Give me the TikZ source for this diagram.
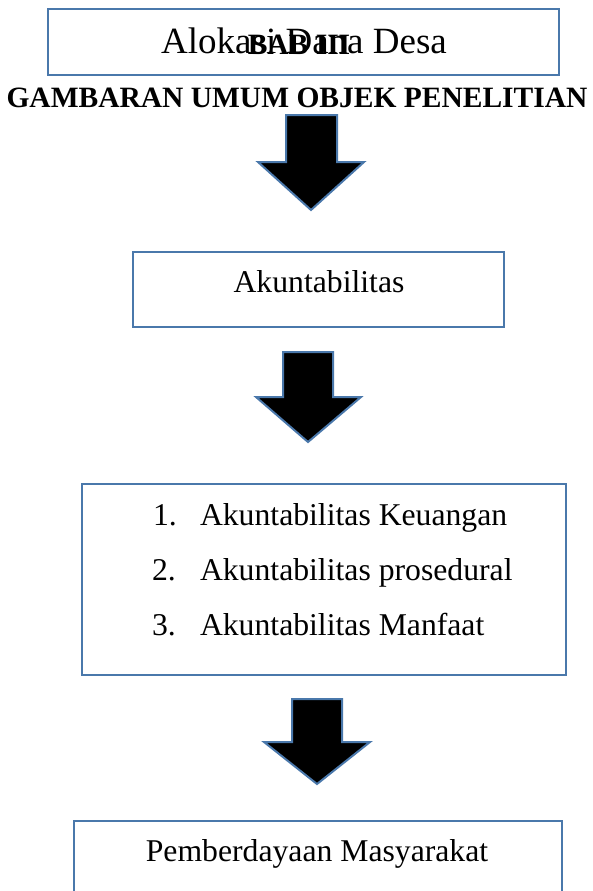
\documentclass[tikz,border=0pt]{standalone}
\usepackage{fontspec}
\setmainfont{Liberation Serif}
\definecolor{edgeblue}{HTML}{4A78AB}
\tikzset{
  boxshape/.style={draw=edgeblue, line width=2pt, fill=white},
  blockarrow/.style={draw=edgeblue, line width=2pt, fill=black, line join=miter},
  txt/.style={inner sep=0pt, outer sep=0pt, anchor=base, font=\fontsize{31.7}{38}\selectfont},
  txtleft/.style={txt, anchor=base west},
  titletxt/.style={inner sep=0pt, outer sep=0pt, anchor=base, font=\fontsize{37}{44}\selectfont},
  headtxt/.style={inner sep=0pt, outer sep=0pt, anchor=base, font=\fontsize{29.5}{35}\selectfont\bfseries}
}
\begin{document}
\begin{tikzpicture}[x=1pt,y=-1pt]
\useasboundingbox[fill=white] (0,0) rectangle (592,891);

% boxes
\draw[boxshape] (48,9) rectangle (559,75);
\coordinate (b1) at (303.5,42);
\draw[boxshape] (133,252) rectangle (504,327);
\coordinate (b2) at (318.5,289.5);
\draw[boxshape] (82,484) rectangle (566,675);
\coordinate (b3) at (324,579.5);
\draw[boxshape] (74,821) rectangle (562,910);
\coordinate (b4) at (318,865);

% texts
\node[titletxt] (t1) at (304,53) {Alokasi Dana Desa};
\node[headtxt] (bab) at (299,55) {BAB III};
\node[headtxt] (judul) at (297,107) {GAMBARAN UMUM OBJEK PENELITIAN};
\node[txt] (t2) at (319,292) {Akuntabilitas};
\node[txtleft] (n1) at (153,525) {1.};
\node[txtleft] (l1) at (200,525) {Akuntabilitas Keuangan};
\node[txtleft] (n2) at (152,580) {2.};
\node[txtleft] (l2) at (200,580) {Akuntabilitas prosedural};
\node[txtleft] (n3) at (152,635) {3.};
\node[txtleft] (l3) at (200,635) {Akuntabilitas Manfaat};
\node[txt] (t4) at (317,861) {Pemberdayaan Masyarakat};

% block arrows
\draw[blockarrow] (286,115) -- (337,115) -- (337,162) -- (364,162) -- (311,210) -- (258,162) -- (286,162) -- cycle;
\draw[blockarrow] (283,352) -- (333,352) -- (333,397) -- (361,397) -- (308,442) -- (256,397) -- (283,397) -- cycle;
\draw[blockarrow] (292,699) -- (342,699) -- (342,742) -- (370,742) -- (317,784) -- (264,742) -- (292,742) -- cycle;
\end{tikzpicture}
\end{document}
